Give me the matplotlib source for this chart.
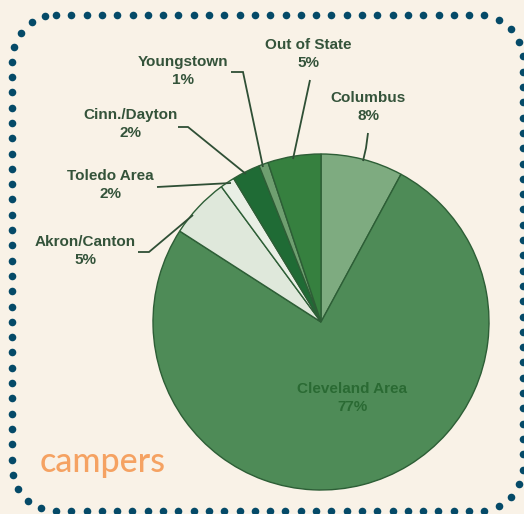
import matplotlib
matplotlib.use("Agg")
import numpy as np
import matplotlib.pyplot as plt

# ---- data ----
categories = ["Columbus", "Cleveland Area", "Akron/Canton", "Toledo Area",
              "Cinn./Dayton", "Youngstown", "Out of State"]
slice_values = [7.9, 76.2, 5.8, 1.4, 2.7, 0.9, 5.1]
pct_labels = ["8%", "77%", "5%", "2%", "2%", "1%", "5%"]
slice_colors = ["#7eab80", "#4e8b57", "#dfe8db", "#e9efe5",
                "#1f6b35", "#6f9f70", "#36803f"]
title_text = "campers"

W, H = 524, 514
BG = "#f9f2e7"
TXT = "#34533a"
LINE = "#2f4f35"

fig = plt.figure(figsize=(W / 100, H / 100), dpi=100, facecolor=BG)
ax = fig.add_axes([0, 0, 1, 1])
ax.set_facecolor(BG)


def Y(y):
    return H - y


cx, cy, r = 321, Y(322), 168
ax.pie(slice_values, colors=slice_colors, startangle=90, counterclock=False,
       center=(cx, cy), radius=r,
       wedgeprops=dict(edgecolor="#2d5e36", linewidth=1.0))

ax.set_xlim(0, W)
ax.set_ylim(0, H)
ax.set_aspect("equal")
ax.axis("off")

label_pos = {
    "Columbus": (368, 107),
    "Cleveland Area": (352, 398),
    "Akron/Canton": (85, 251),
    "Toledo Area": (110, 185),
    "Cinn./Dayton": (131, 124),
    "Youngstown": (183, 71),
    "Out of State": (308, 54),
}
leaders = {
    "Columbus": [(368, 133), (366, 148), (363, 161)],
    "Akron/Canton": [(138, 252), (149, 252), (193, 215)],
    "Toledo Area": [(157, 187), (231, 183)],
    "Cinn./Dayton": [(178, 127), (188, 127), (246, 174)],
    "Youngstown": [(231, 72), (243, 72), (263, 167)],
    "Out of State": [(310, 80), (293, 159)],
}

for name, pct in zip(categories, pct_labels):
    x, y = label_pos[name]
    col = "#2a6a33" if name == "Cleveland Area" else TXT
    ax.text(x, Y(y), f"{name}\n{pct}", ha="center", va="center",
            fontsize=11, fontweight="bold", color=col,
            family=["Liberation Sans", "DejaVu Sans"], linespacing=1.42)
    if name in leaders:
        pts = leaders[name]
        ax.plot([p[0] for p in pts], [Y(p[1]) for p in pts], color=LINE,
                lw=1.3, solid_capstyle="butt", solid_joinstyle="miter")

ax.text(40, Y(472), title_text, ha="left", va="baseline", fontsize=24.5,
        color="#f5a262", family=["Lato", "DejaVu Sans"], fontweight="medium")

# dotted rounded border (decoration)
bx0, by0, bx1, by1, rad, step = 12, 15, 523, 511, 44, 15.3


def rounded_rect_points(x0, y0, x1, y1, rr):
    def arc(xc, yc, a0, a1):
        t = np.linspace(a0, a1, 60)
        return np.c_[xc + rr * np.cos(t), yc + rr * np.sin(t)]
    pts = np.vstack([
        [[x0 + rr, y0], [x1 - rr, y0]],
        arc(x1 - rr, y0 + rr, -np.pi / 2, 0),
        [[x1, y0 + rr], [x1, y1 - rr]],
        arc(x1 - rr, y1 - rr, 0, np.pi / 2),
        [[x1 - rr, y1], [x0 + rr, y1]],
        arc(x0 + rr, y1 - rr, np.pi / 2, np.pi),
        [[x0, y1 - rr], [x0, y0 + rr]],
        arc(x0 + rr, y0 + rr, np.pi, 1.5 * np.pi),
    ])
    d = np.r_[0, np.cumsum(np.hypot(*np.diff(pts, axis=0).T))]
    s = np.arange(0, d[-1] - step / 2, step)
    return np.interp(s, d, pts[:, 0]), np.interp(s, d, pts[:, 1])


bxs, bys = rounded_rect_points(bx0, by0, bx1, by1, rad)
ax.scatter(bxs, [Y(v) for v in bys], s=(7.6 * 0.72) ** 2, color="#054a68",
           linewidths=0, clip_on=False, zorder=5)

fig.savefig("out.png", dpi=100, facecolor=BG)
